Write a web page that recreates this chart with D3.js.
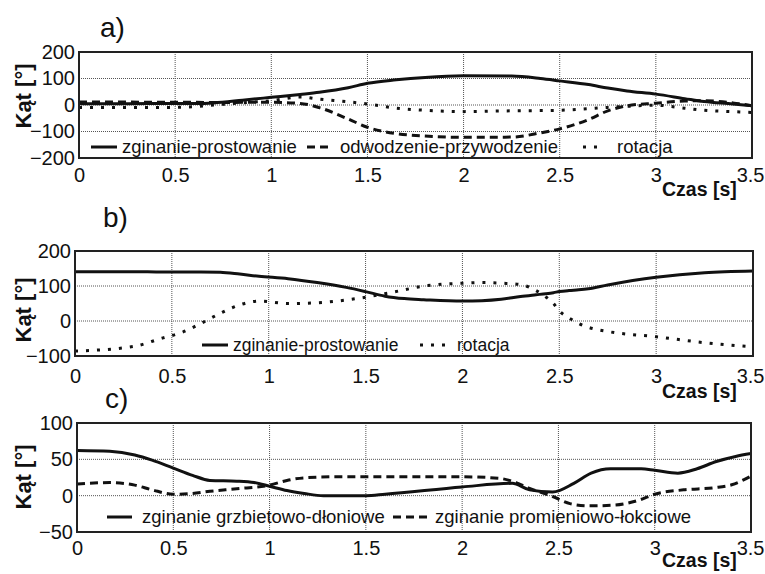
<!DOCTYPE html>
<html>
<head>
<meta charset="utf-8">
<script src="https://cdn.jsdelivr.net/npm/d3@7/dist/d3.min.js"></script>
<style>
  body { margin: 0; background: #fff; }
  svg { display: block; }
  text { font-family: 'Liberation Sans', Arial, sans-serif; fill: #111; }
</style>
</head>
<body>
<div id="chart"></div>
<script>
// values
var xTicks = [0, 0.5, 1, 1.5, 2, 2.5, 3, 3.5];
var xTickLabels = ['0', '0.5', '1', '1.5', '2', '2.5', '3', '3.5'];

// a) shoulder
var aYTicks = [-200, -100, 0, 100, 200];
var aTime = [0, 0.25, 0.5, 0.6, 0.7, 0.85, 1.0, 1.15, 1.25, 1.4, 1.5, 1.65, 1.8, 2.0, 2.25, 2.4, 2.5, 2.65, 2.75, 2.85, 3.0, 3.15, 3.25, 3.4, 3.5];
var aFlex = [5, 5, 6, 6, 8, 18, 29, 40, 48, 65, 82, 95, 104, 110, 109, 100, 91, 77, 64, 53, 41, 24, 13, 4, -3];
var aAbd = [11, 11, 10, 10, 9, 10, 10, 6, -10, -53, -84, -108, -117, -122, -121, -105, -90, -55, -22, -3, 7, 15, 16, 8, -3];
var aRot = [-9, -9, -9, -6, 0, 8, 16, 30, 22, 12, 4, -12, -20, -25, -22, -21, -20, -14, -9, -5, -1, -12, -20, -25, -28];
var aNames = ['zginanie-prostowanie', 'odwodzenie-przywodzenie', 'rotacja'];

// b) elbow
var bYTicks = [-100, 0, 100, 200];
var bTime = [0, 0.3, 0.45, 0.55, 0.65, 0.75, 0.85, 0.95, 1.1, 1.25, 1.4, 1.5, 1.6, 1.7, 1.8, 2.0, 2.1, 2.2, 2.3, 2.38, 2.43, 2.47, 2.5, 2.55, 2.6, 2.65, 2.75, 3.0, 3.25, 3.5];
var bFlex = [141, 141, 140, 140, 140, 139, 134, 128, 121, 110, 96, 84, 71, 64, 61, 57, 58, 62, 70, 75, 78, 81, 84, 87, 89, 92, 103, 125, 138, 143];
var bRot = [-86, -73, -49, -33, -7, 22, 46, 57, 50, 52, 60, 68, 78, 89, 100, 108, 110, 108, 104, 87, 69, 50, 29, 9, -7, -18, -30, -45, -62, -74];
var bNames = ['zginanie-prostowanie', 'rotacja'];

// c) wrist
var cYTicks = [-50, 0, 50, 100];
var cDorsalTime = [0, 0.17, 0.3, 0.39, 0.5, 0.6, 0.69, 0.83, 0.92, 1.0, 1.09, 1.18, 1.28, 1.5, 1.6, 2.0, 2.26, 2.35, 2.47, 2.58, 2.67, 2.77, 2.93, 3.0, 3.12, 3.22, 3.32, 3.42, 3.5];
var cDorsal = [62, 61, 56, 49, 38, 28, 21, 20, 18, 13, 7, 3, 0, 0, 2, 12, 17, 8, 5, 17, 31, 37, 37, 35, 31, 37, 47, 54, 58];
var cRadialTime = [0, 0.17, 0.3, 0.39, 0.5, 0.6, 0.69, 0.83, 1.0, 1.09, 1.18, 1.35, 1.6, 2.0, 2.19, 2.28, 2.35, 2.46, 2.56, 2.66, 2.79, 2.92, 3.0, 3.15, 3.31, 3.4, 3.5];
var cRadial = [16, 18, 14.5, 8, 2, 3, 6, 9.5, 14.5, 21, 24.5, 26, 26, 26, 24, 18, 10, 0, -11, -14, -13, -6, 2, 8, 11, 15, 27];
var cNames = ['zginanie grzbietowo-dłoniowe', 'zginanie promieniowo-łokciowe'];

var W = 765, H = 574;

// line styles
var styles = {
  solid: { width: 3, dash: null },
  dashed: { width: 3, dash: '8,5' },
  dotted: { width: 3, dash: '3,8' }
};

function zip(t, v) {
  return t.map(function(d, i) { return [d, v[i]]; });
}

var svg = d3.select('#chart').append('svg').attr('width', W).attr('height', H);
svg.append('rect').attr('width', W).attr('height', H).attr('fill', '#fff');

function drawPanel(p) {
  var x = d3.scaleLinear().domain([0, 3.5]).range([p.left, p.right]);
  var y = d3.scaleLinear().domain([p.yTicks[0], p.yTicks[p.yTicks.length - 1]]).range([p.bottom, p.top]);
  var g = svg.append('g');

  // dotted grid
  g.selectAll('line.vgrid').data(xTicks.slice(1, -1)).enter().append('line')
    .attr('x1', function(d) { return x(d); }).attr('x2', function(d) { return x(d); })
    .attr('y1', p.top).attr('y2', p.bottom)
    .attr('stroke', '#555').attr('stroke-width', 1).attr('stroke-dasharray', '1,1');
  g.selectAll('line.hgrid').data(p.yTicks.slice(1, -1)).enter().append('line')
    .attr('x1', p.left).attr('x2', p.right)
    .attr('y1', function(d) { return y(d); }).attr('y2', function(d) { return y(d); })
    .attr('stroke', '#555').attr('stroke-width', 1).attr('stroke-dasharray', '1,1');

  // axes (labels only, frame drawn separately)
  var xa = g.append('g').attr('transform', 'translate(0,' + p.bottom + ')')
    .call(d3.axisBottom(x).tickValues(xTicks).tickSize(0).tickPadding(p.xPad)
      .tickFormat(function(d, i) { return xTickLabels[i]; }));
  var ya = g.append('g').attr('transform', 'translate(' + p.left + ',0)')
    .call(d3.axisLeft(y).tickValues(p.yTicks).tickSize(0).tickPadding(4));
  [xa, ya].forEach(function(a) {
    a.select('.domain').remove();
    a.attr('font-family', null).attr('font-size', null);
    a.selectAll('text').attr('font-size', 20).attr('fill', '#111');
  });
  // the reference squeezes the last label against the right edge
  xa.selectAll('text').filter(function(d) { return d === 3.5; }).attr('text-anchor', 'end').attr('x', W - p.right - 1);

  // series
  var line = d3.line()
    .x(function(d) { return x(d[0]); })
    .y(function(d) { return y(d[1]); })
    .curve(d3.curveMonotoneX);
  p.series.forEach(function(s) {
    var st = styles[s.style];
    g.append('path').datum(zip(s.t, s.v))
      .attr('d', line).attr('fill', 'none').attr('stroke', '#111')
      .attr('stroke-width', st.width).attr('stroke-dasharray', st.dash);
  });

  // frame
  g.append('rect').attr('x', p.left).attr('y', p.top)
    .attr('width', p.right - p.left).attr('height', p.bottom - p.top)
    .attr('fill', 'none').attr('stroke', '#222').attr('stroke-width', 2);

  // legend inside the plot
  p.legend.forEach(function(l, i) {
    var st = styles[p.series[i].style];
    g.append('line').attr('x1', l.x1).attr('x2', l.x2).attr('y1', p.legendY).attr('y2', p.legendY)
      .attr('stroke', '#111').attr('stroke-width', st.width).attr('stroke-dasharray', st.dash);
    g.append('text').attr('x', l.tx).attr('y', p.legendY + 6)
      .attr('font-size', p.legendSize).text(p.names[i]);
  });

  // titles
  g.append('text').attr('x', p.labelX).attr('y', p.labelY).attr('font-size', 28).text(p.label);
  g.append('text').attr('transform', 'translate(31,' + p.yTitleY + ') rotate(-90)')
    .attr('text-anchor', 'middle').attr('font-size', 22).attr('font-weight', 'bold').text('Kąt [°]');
  g.append('text').attr('x', p.xTitleX).attr('y', p.xTitleY)
    .attr('font-size', 19.5).attr('font-weight', 'bold').text('Czas [s]');
}

drawPanel({
  left: 79, right: 752, top: 52, bottom: 158, yTicks: aYTicks, xPad: 10,
  series: [
    { t: aTime, v: aFlex, style: 'solid' },
    { t: aTime, v: aAbd, style: 'dashed' },
    { t: aTime, v: aRot, style: 'dotted' }
  ],
  names: aNames, legendY: 147, legendSize: 18.5,
  legend: [{ x1: 91, x2: 117, tx: 122 }, { x1: 307, x2: 333, tx: 340 }, { x1: 583, x2: 605, tx: 617 }],
  label: 'a)', labelX: 100, labelY: 37, yTitleY: 96, xTitleX: 662, xTitleY: 196
});

drawPanel({
  left: 75, right: 753, top: 251, bottom: 356, yTicks: bYTicks, xPad: 13,
  series: [
    { t: bTime, v: bFlex, style: 'solid' },
    { t: bTime, v: bRot, style: 'dotted' }
  ],
  names: bNames, legendY: 345, legendSize: 17.5,
  legend: [{ x1: 202, x2: 228, tx: 233 }, { x1: 420, x2: 447, tx: 457 }],
  label: 'b)', labelX: 103, labelY: 227, yTitleY: 310, xTitleX: 662, xTitleY: 398
});

drawPanel({
  left: 77, right: 751, top: 423, bottom: 532, yTicks: cYTicks, xPad: 9,
  series: [
    { t: cDorsalTime, v: cDorsal, style: 'solid' },
    { t: cRadialTime, v: cRadial, style: 'dashed' }
  ],
  names: cNames, legendY: 517, legendSize: 18.5,
  legend: [{ x1: 107, x2: 132, tx: 142 }, { x1: 393, x2: 428, tx: 435 }],
  label: 'c)', labelX: 105, labelY: 408, yTitleY: 477, xTitleX: 662, xTitleY: 567
});
</script>
</body>
</html>
